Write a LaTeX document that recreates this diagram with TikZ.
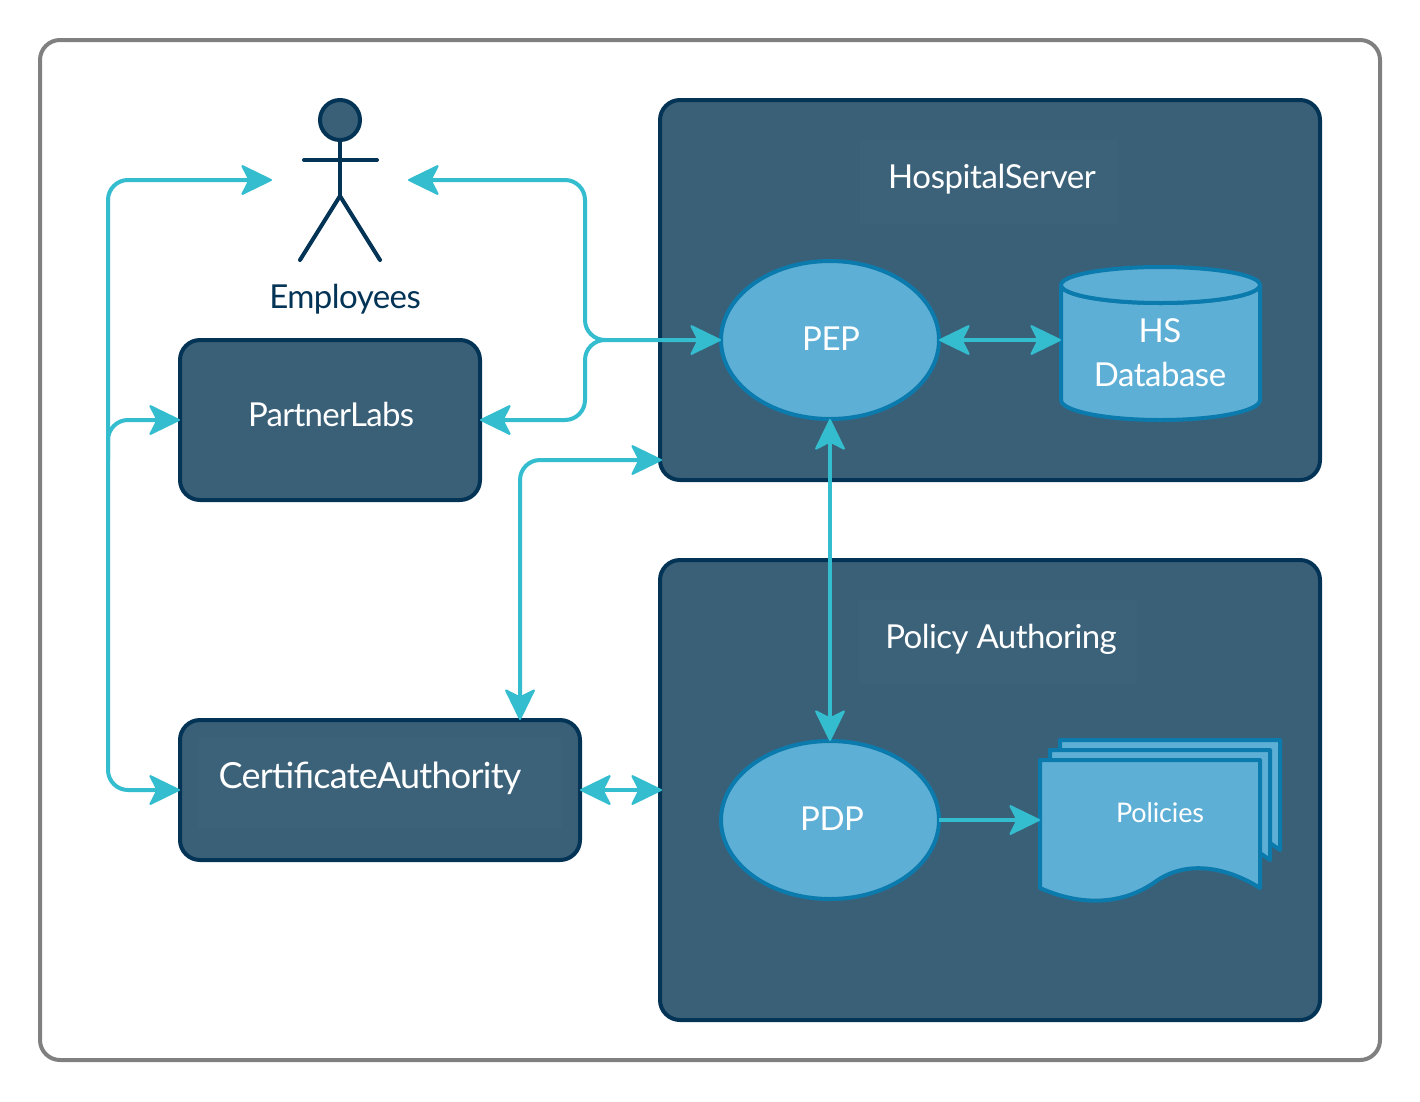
\documentclass[tikz,border=0pt]{standalone}
\usepackage{fontspec}
\setmainfont{Lato}
\usetikzlibrary{arrows.meta,shapes.geometric,calc}
\definecolor{boxfill}{HTML}{3A6078}
\definecolor{labelfill}{HTML}{3C627A}
\definecolor{boxline}{HTML}{033355}
\definecolor{teal}{HTML}{33BDCF}
\definecolor{lightfill}{HTML}{5EAFD6}
\definecolor{lightline}{HTML}{0B7BAD}
\definecolor{framegray}{HTML}{808080}
\newcommand{\tight}[1]{\addfontfeature{LetterSpace=#1}}
\tikzset{
  x=1pt,y=-1pt,
  tip/.tip={Stealth[length=33pt,width=32pt,inset=8pt,round,line width=2pt]},
  frame/.style={draw=framegray,line width=4pt,fill=white,rounded corners=20pt},
  darkbox/.style={draw=boxline,fill=boxfill,line width=4pt,rounded corners=20pt,rectangle,inner sep=0pt,outer sep=0pt},
  labelback/.style={fill=labelfill,rectangle,inner sep=0pt,outer sep=0pt},
  oval/.style={ellipse,draw=lightline,fill=lightfill,line width=4pt,inner sep=0pt,outer sep=0pt,minimum width=218pt,minimum height=158pt},
  lightshape/.style={draw=lightline,fill=lightfill,line width=4pt,line join=round},
  actorline/.style={draw=boxline,line width=4pt,line cap=round,line join=round},
  lbl/.style={text=white,font=\fontsize{33}{40}\selectfont,anchor=base,inner sep=0pt},
  conn/.style={draw=teal,line width=4pt,rounded corners=20pt},
  both/.style={conn,tip-tip},
  fwd/.style={conn,-tip},
  bwd/.style={conn,tip-},
}
\begin{document}
\begin{tikzpicture}
\useasboundingbox (0,0) rectangle (1420,1101);
\fill[white] (0,0) rectangle (1420,1101);
\draw[frame] (40,40) rectangle (1380,1060);

% containers
\node[darkbox,minimum width=660pt,minimum height=380pt] (hosp) at (990,290) {};
\node[darkbox,minimum width=660pt,minimum height=460pt] (pol) at (990,790) {};
\node[darkbox,minimum width=300pt,minimum height=160pt] (partner) at (330,420) {};
\node[darkbox,minimum width=400pt,minimum height=140pt] (ca) at (380,790) {};

% faint label backings
\node[labelback,minimum width=258pt,minimum height=84pt] (hospback) at (989,182) {};
\node[labelback,minimum width=278pt,minimum height=84pt] (polback) at (998,642) {};
\node[labelback,minimum width=364pt,minimum height=90pt] (caback) at (380,783) {};

% actor
\node[circle,draw=boxline,fill=boxfill,line width=4pt,inner sep=0pt,outer sep=0pt,minimum size=40pt] (head) at (340,120) {};
\coordinate (hip) at (340,196);
\coordinate (armL) at (304,160);
\coordinate (armR) at (377,160);
\coordinate (legL) at (300,260);
\coordinate (legR) at (380,260);
\draw[actorline] (head.south) -- (hip);
\draw[actorline] (armL) -- (armR);
\draw[actorline] (legL) -- (hip) -- (legR);
\coordinate (empW) at (272,180);
\coordinate (empE) at (408,180);

% inner shapes
\node[oval] (pep) at (830,340) {};
\node[oval] (pdp) at (830,820) {};

% database
\draw[lightshape] (1061,285) -- (1061,400) arc[start angle=180,end angle=360,x radius=99.5,y radius=-20] -- (1260,285) arc[start angle=0,end angle=360,x radius=99.5,y radius=18];
\draw[lightshape] (1061,285) arc[start angle=180,end angle=360,x radius=99.5,y radius=-18];
\coordinate (dbW) at (1061,340);

% policies
\draw[lightshape] (1060,740) -- (1280,740) -- (1280,850) -- (1270,843) -- (1060,843) -- cycle;
\draw[lightshape] (1050,750) -- (1270,750) -- (1270,860) -- (1260,853) -- (1050,853) -- cycle;
\draw[lightshape] (1040,760) -- (1260,760) -- (1260,888) .. controls (1225,866) and (1185,860) .. (1155,882) .. controls (1125,903) and (1085,908) .. (1040,888) -- cycle;
\coordinate (docW) at (1040,820);

% free ends on containers
\coordinate (hospW) at (662,460);
\coordinate (polW) at (662,790);
\coordinate (caN) at (520,720);
\coordinate (caBend) at (520,460);
\coordinate (jx) at (585,340);
\coordinate (lx) at (108,180);
\coordinate (lb) at (108,790);
\coordinate (lm) at (108,420);
\coordinate (ls) at (108,460);

% connectors
\draw[both] (empW) -- (lx) -- (lb) -- (ca.west);
\draw[fwd] (ls) -- (lm) -- (partner.west);
\draw[both] (empE) -- (585,180) -- (jx) -- (pep.west);
\draw[bwd] (partner.east) -- (585,420) -- (jx) -- ++(20,0);
\draw[both] (hospW) -- (caBend) -- (caN);
\draw[both] (ca.east) -- (polW);
\draw[both] (pep.south) -- (pdp.north);
\draw[both] (pep.east) -- (dbW);
\draw[fwd] (pdp.east) -- (docW);

% labels
\node[lbl] (tHosp) at (992,188) {\tight{-1.3}HospitalServer};
\node[lbl] (tPol) at (1001,648) {\tight{-1.7}Policy Authoring};
\node[lbl] (tPartner) at (331,426) {\tight{-2.2}PartnerLabs};
\node[lbl,font=\fontsize{36}{44}\selectfont] (tCA) at (370,788) {\tight{-2.1}CertificateAuthority};
\node[lbl] (tPEP) at (831,350) {\tight{-1.5}PEP};
\node[lbl] (tPDP) at (832,830) {\tight{-1.5}PDP};
\node[lbl] (tHS) at (1160,342) {\tight{-1.5}HS};
\node[lbl] (tDB) at (1160,386) {\tight{-1.5}Database};
\node[lbl,font=\fontsize{27}{32}\selectfont] (tDoc) at (1160,822) {\tight{-0.5}Policies};
\node[lbl,text=boxline] (tEmp) at (345,308) {\tight{-1.7}Employees};
\end{tikzpicture}
\end{document}
